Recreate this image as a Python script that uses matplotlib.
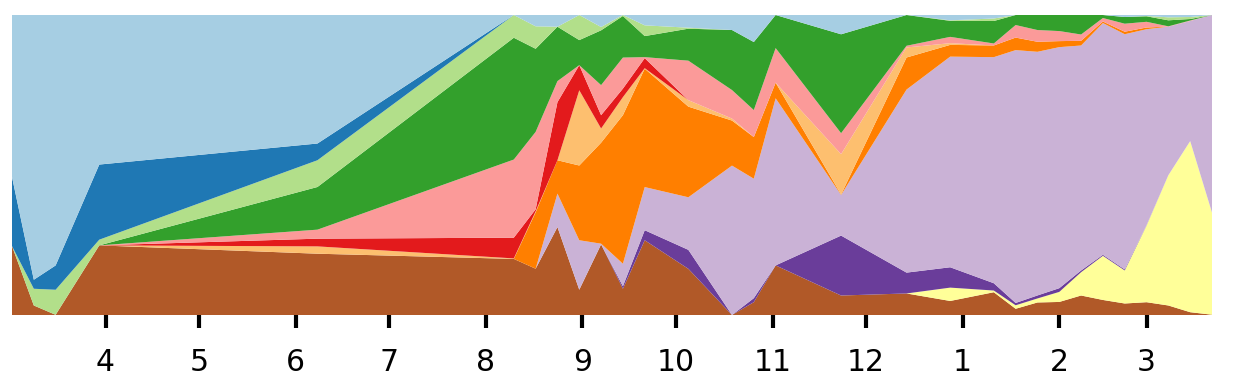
import matplotlib
matplotlib.use("Agg")
import matplotlib.pyplot as plt
import matplotlib.dates as mdates
import numpy as np
import pandas as pd

dates = pd.to_datetime([
    "2018-03-02", "2018-03-09", "2018-03-16", "2018-03-30", "2018-06-08",
    "2018-08-10", "2018-08-17", "2018-08-24", "2018-08-31", "2018-09-07",
    "2018-09-14", "2018-09-21", "2018-10-05", "2018-10-19", "2018-10-26",
    "2018-11-02", "2018-11-23", "2018-12-14", "2018-12-28", "2019-01-11",
    "2019-01-18", "2019-01-25", "2019-02-01", "2019-02-08", "2019-02-15",
    "2019-02-22", "2019-03-01", "2019-03-08", "2019-03-15", "2019-03-22",
])

# series shares (bottom to top), relative weights per date
brown = [68.8, 9.5, 0.2, 69.5, 61.2, 56, 46.2, 87.8, 25.2, 70.5, 26.2, 74.5, 46.2, 0, 12.8,
         49.5, 19.5, 21.5, 14, 22.8, 6.2, 12.5, 13, 19.5, 15, 11.5, 12.8, 9.5, 2.8, 0.3]
yellow = [0, 0, 0, 0, 0, 0, 0, 0, 0, 0, 0, 0, 0, 0, 0,
          0, 0, 0, 13.3, 1.7, 3.5, 4, 10, 23.3, 44, 33, 76.7, 130, 171, 102]
purple = [0, 0, 0, 0, 0, 0, 0, 0, 0, 0, 2.5, 10, 19, 0, 4,
          0, 60, 20.8, 20.3, 7.3, 2.3, 3, 3.7, 1.7, 1, 1, 0.3, 0, 0, 0]
lavender = [0, 0, 0, 0, 0, 0, 0, 33.4, 49.3, 0.7, 22.5, 43, 52.6, 149.3, 119.4,
            166.7, 40.7, 182.7, 210, 226.3, 252, 243, 240, 225, 231, 235, 196, 148.3, 120, 197.3]
orange = [0, 0, 0, 0, 0, 0, 56.3, 33.3, 74.5, 100.8, 148.3, 118, 90.7, 45, 41.6,
          15.6, 0.5, 32, 11.7, 11.7, 12.5, 10, 6, 4.7, 1.5, 2.5, 1.7, 0, 0, 0]
light_orange = [0, 0, 0, 0, 7.3, 0.5, 1, 0, 75, 14.2, 18, 0.5, 6.5, 2, 0,
                0, 40.3, 10, 1.7, 0, 0, 0, 0, 0, 0, 0, 0, 0, 0, 0]
red = [0, 0, 0, 0, 7.7, 20.7, 2, 58, 25, 13.3, 8.5, 10, 0, 0, 0,
       0, 0, 0, 0, 0, 0, 0, 0, 0, 0, 0, 0, 0, 0, 0]
pink = [0, 0, 0, 0, 9, 78, 77.3, 21, 0, 30, 31, 1, 39.5, 28.5, 27,
        34.5, 21, 1.7, 6.3, 2, 12.5, 11.7, 10, 6.3, 3.5, 8, 5.7, 0.3, 0.5, 0]
green = [0, 0, 0, 0, 42.6, 121.6, 83, 54.3, 25, 54.7, 41.5, 21, 32, 60, 68,
         33, 99, 30.7, 16, 22.5, 10, 15, 16, 19.5, 3, 6.7, 5.5, 6, 1.5, 0]
light_green = [0, 16.7, 25, 5.7, 26.7, 22.7, 22.4, 0, 25, 3.3, 1, 10.7, 1, 0, 0,
               0, 0, 0, 0.5, 2.5, 0, 0, 0, 0, 0, 0, 0.3, 3, 2, 0]
dark_blue = [69, 9, 24.3, 75, 16.7, 0, 0, 0, 0, 0, 0, 0, 0, 0, 0,
             0, 0, 0, 0, 0, 0, 0, 0, 0, 0, 0, 0, 0, 0, 0]
light_blue = [161.7, 264.3, 250, 149.3, 128.3, 0, 11.3, 11.7, 0, 12, 0, 10.3, 12.7, 15, 27,
              0, 19.3, 0, 5.3, 3.5, 0, 0, 0, 0, 0, 2, 1, 2.3, 2, 0]

series = [brown, yellow, purple, lavender, orange, light_orange, red, pink,
          green, light_green, dark_blue, light_blue]
colors = ["#b15928", "#ffff99", "#6a3d9a", "#cab2d6", "#ff7f00", "#fdbf6f",
          "#e31a1c", "#fb9a99", "#33a02c", "#b2df8a", "#1f78b4", "#a6cee3"]

data = np.array(series, dtype=float)
data = data / data.sum(axis=0) * 100

fig = plt.figure(figsize=(12.35, 3.89), dpi=100)
ax = fig.add_axes([12 / 1235, 74 / 389, 1200 / 1235, 300 / 389])
ax.stackplot(dates, data, colors=colors, linewidth=0)
ax.set_xlim(dates[0], dates[-1])
ax.set_ylim(0, 100)
for s in ax.spines.values():
    s.set_visible(False)
ax.set_yticks([])
ax.xaxis.set_major_locator(mdates.MonthLocator())
ax.xaxis.set_major_formatter(plt.FuncFormatter(lambda v, p: str(mdates.num2date(v).month)))
ax.tick_params(axis="x", length=9.5, width=3, pad=14, labelsize=21.5, color="black")
fig.savefig("out.png", dpi=100)
